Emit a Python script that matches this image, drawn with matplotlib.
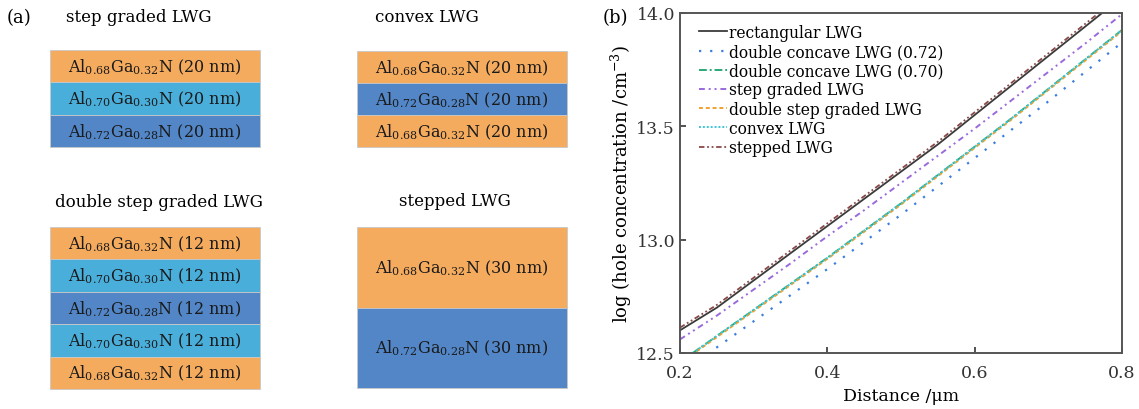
import matplotlib
matplotlib.use("Agg")
import matplotlib.pyplot as plt
import numpy as np

plt.rcParams['font.family'] = 'DejaVu Serif'
plt.rcParams['mathtext.fontset'] = 'dejavuserif'
plt.rcParams['font.size'] = 11

# ---- (a) layer stacks: Al content and thickness (nm) of each layer, top to bottom
step_graded_al = [0.68, 0.70, 0.72]
step_graded_nm = [20, 20, 20]
convex_al = [0.68, 0.72, 0.68]
convex_nm = [20, 20, 20]
double_step_al = [0.68, 0.70, 0.72, 0.70, 0.68]
double_step_nm = [12, 12, 12, 12, 12]
stepped_al = [0.68, 0.72]
stepped_nm = [30, 30]

# ---- (b) hole concentration vs distance
distance = [0.2, 0.25, 0.3, 0.35, 0.4, 0.45, 0.5, 0.55, 0.6, 0.65, 0.7, 0.75, 0.8]
rectangular = [12.60, 12.70, 12.82, 12.94, 13.06, 13.18, 13.30, 13.42, 13.55, 13.68, 13.81, 13.94, 14.07]
concave_072 = [12.41, 12.525, 12.64, 12.755, 12.87, 12.99, 13.11, 13.235, 13.36, 13.485, 13.61, 13.74, 13.87]
concave_070 = [12.46, 12.575, 12.69, 12.805, 12.92, 13.04, 13.16, 13.285, 13.41, 13.535, 13.665, 13.795, 13.925]
step_graded = [12.56, 12.665, 12.78, 12.895, 13.015, 13.13, 13.25, 13.37, 13.49, 13.615, 13.74, 13.865, 13.995]
double_step = [12.455, 12.57, 12.685, 12.80, 12.915, 13.035, 13.155, 13.28, 13.405, 13.53, 13.66, 13.79, 13.92]
convex = [12.46, 12.575, 12.69, 12.805, 12.92, 13.04, 13.16, 13.285, 13.41, 13.535, 13.665, 13.795, 13.925]
stepped = [12.612, 12.712, 12.832, 12.952, 13.072, 13.192, 13.312, 13.432, 13.562, 13.692, 13.822, 13.952, 14.082]

layer_color = {0.68: '#f5ab5e', 0.70: '#4aaedb', 0.72: '#5286c7'}

fig = plt.figure(figsize=(11.39, 4.10), dpi=100)

# panel (a) drawn in pixel coordinates
ax_a = fig.add_axes([0, 0, 1, 1])
ax_a.set_xlim(0, 1139)
ax_a.set_ylim(410, 0)
ax_a.axis('off')


def draw_stack(al, nm, x0, x1, y0, y1):
    n = len(al)
    h = (y1 - y0) / n
    for k in range(n):
        top = y0 + k * h
        ax_a.bar((x0 + x1) / 2, h, width=x1 - x0, bottom=top,
                 color=layer_color[al[k]], edgecolor='#c8c8c8', linewidth=0.6)
        ga = 1 - al[k]
        txt = r'Al$_{%.2f}$Ga$_{%.2f}$N (%d nm)' % (al[k], ga, nm[k])
        ax_a.text((x0 + x1) / 2, top + h / 2, txt, ha='center', va='center',
                  fontsize=11.5, color='#1a1a1a')


draw_stack(step_graded_al, step_graded_nm, 50, 260, 51, 148)
draw_stack(convex_al, convex_nm, 357, 567, 52, 148)
draw_stack(double_step_al, double_step_nm, 50, 260, 228, 390)
draw_stack(stepped_al, stepped_nm, 357, 567, 228, 389)

ax_a.text(7, 18, '(a)', ha='left', va='center', fontsize=13)
ax_a.text(139, 18, 'step graded LWG', ha='center', va='center', fontsize=12)
ax_a.text(427, 18, 'convex LWG', ha='center', va='center', fontsize=12)
ax_a.text(159, 203, 'double step graded LWG', ha='center', va='center', fontsize=12)
ax_a.text(455, 202, 'stepped LWG', ha='center', va='center', fontsize=12)
ax_a.text(603, 18, '(b)', ha='left', va='center', fontsize=13)

# panel (b)
ax = fig.add_axes([680 / 1139, 1 - 354 / 410, 442 / 1139, 340 / 410])
ax.plot(distance, rectangular, color='#3a3a3a', lw=1.3, ls='-', label='rectangular LWG')
ax.plot(distance, concave_072, color='#3b7ee0', lw=1.6, ls=(0, (1, 4)), label='double concave LWG (0.72)')
ax.plot(distance, concave_070, color='#2aa876', lw=1.4, ls=(0, (4, 1.5, 1, 1.5)), label='double concave LWG (0.70)')
ax.plot(distance, step_graded, color='#9a6add', lw=1.4, ls=(0, (3, 2, 1, 2, 1, 2)), label='step graded LWG')
ax.plot(distance, double_step, color='#f0a030', lw=1.4, ls=(0, (2, 1.5)), label='double step graded LWG')
ax.plot(distance, convex, color='#3cc6d6', lw=1.4, ls=(0, (1, 1)), label='convex LWG')
ax.plot(distance, stepped, color='#8b4848', lw=1.3, ls=(0, (3, 1.5, 1, 1.5, 1, 1.5)), label='stepped LWG')

ax.set_xlim(0.2, 0.8)
ax.set_ylim(12.5, 14.0)
ax.set_xticks([0.2, 0.4, 0.6, 0.8])
ax.set_yticks([12.5, 13.0, 13.5, 14.0])
ax.tick_params(direction='in', length=4, width=1.2, labelsize=12.5, colors='#333333')
ax.tick_params(axis='x', pad=8)
for s in ax.spines.values():
    s.set_color('#555555')
    s.set_linewidth(1.4)
ax.set_xlabel('Distance /μm', fontsize=12.5, labelpad=4)
ax.set_ylabel('log (hole concentration /cm$^{-3}$)', fontsize=13, labelpad=2)

ax.legend(loc='upper left', bbox_to_anchor=(8 / 442, 1.0), frameon=False, fontsize=11.2,
          handlelength=1.8, handletextpad=0.15, labelspacing=0.14, borderaxespad=0.4,
          borderpad=0.3)

fig.savefig('out.png', dpi=100)
